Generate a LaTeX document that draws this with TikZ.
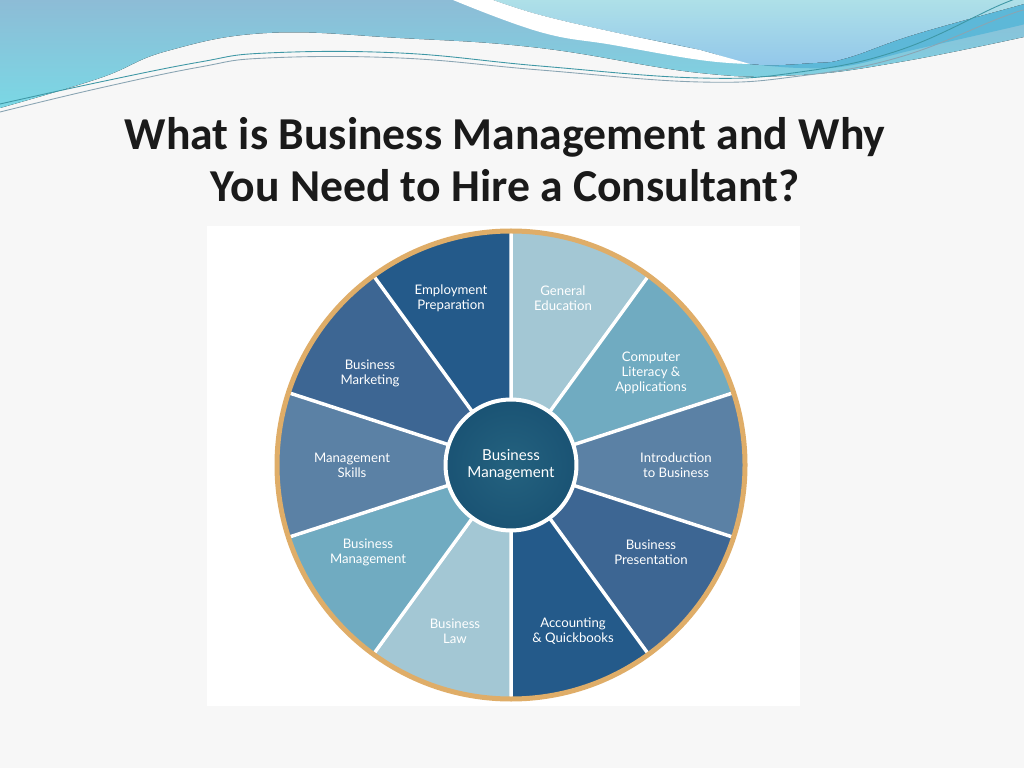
\documentclass[tikz,border=0pt]{standalone}
\usepackage{fontspec}
\setmainfont{Carlito}
\newfontfamily\wheelfont{Lato}
\usepackage{tikz}

\definecolor{slidebg}{HTML}{F7F7F7}
\definecolor{wavetop}{HTML}{8DBCD6}
\definecolor{wavebottom}{HTML}{7AD8E5}
\definecolor{stripeblue}{HTML}{5DB8D8}
\definecolor{skytop}{HTML}{AEE0E8}
\definecolor{skybottom}{HTML}{92C7EA}
\definecolor{lineteal}{HTML}{3E97A5}
\definecolor{linegray}{HTML}{8AA5B3}
\definecolor{titlegray}{HTML}{1A1A1A}
\definecolor{segA}{HTML}{245A8A}
\definecolor{segB}{HTML}{3D6693}
\definecolor{segC}{HTML}{5B81A5}
\definecolor{segD}{HTML}{70ABC1}
\definecolor{segE}{HTML}{A3C7D4}
\definecolor{hubinner}{HTML}{24627F}
\definecolor{hubouter}{HTML}{1A5374}
\definecolor{ringtan}{HTML}{DFAD68}

\tikzset{
    sector/.style={draw=white, line width=0.07cm, line join=round},
    seglabel/.style={text=white, align=center, inner sep=0pt, font=\wheelfont\fontsize{7.5}{8.6}\selectfont},
    waveline/.style={line width=0.5pt}
}

\begin{document}
\begin{tikzpicture}[x=0.02cm, y=0.02cm]
    \useasboundingbox (0,0) rectangle (1024,768);
    \clip (0,0) rectangle (1024,768);

    % Slide background and picture frame
    \fill[slidebg] (0,0) rectangle (1024,768);
    \fill[white] (207,62) rectangle (800,542);

    % Header waves
    \fill[top color=wavetop, bottom color=wavebottom] plot[smooth, tension=0.7] coordinates {(0,660) (100,690) (167,717) (267,735) (400,730) (540,720) (700,695) (800,693) (900,706) (1024,731)} -- (1024,768) -- (0,768) -- cycle;
    \fill[stripeblue] plot[smooth, tension=0.7] coordinates {(750,704) (800,700) (847,702) (913,718) (1013,741) (1024,744)} -- (1024,768) -- (850,768) -- cycle;
    \fill[top color=skytop, bottom color=skybottom] plot[smooth, tension=0.7] coordinates {(493,768) (540,753) (613,736) (700,718) (750,704) (813,705) (847,710) (913,733) (1013,761) (1024,764)} -- (1024,768) -- cycle;
    \fill[white] plot[smooth, tension=0.7] coordinates {(453,768) (540,736) (613,723) (700,708) (750,704)} -- plot[smooth, tension=0.7] coordinates {(700,718) (613,736) (540,753) (493,768)} -- cycle;

    \draw[waveline, lineteal] plot[smooth, tension=0.7] coordinates {(0,664) (100,686) (200,706) (267,715) (400,715) (540,702) (700,690) (800,696) (900,718) (1000,763) (1024,771)};
    \draw[waveline, linegray] plot[smooth, tension=0.7] coordinates {(0,656) (100,680) (200,701) (267,710) (400,710) (540,698) (700,686) (800,692) (900,711) (1000,750) (1024,758)};

    % Title
    \node[font=\bfseries\fontsize{26}{29.5}\selectfont, align=center, text=titlegray] (title) at (505,608) {What is Business Management and Why\\You Need to Hire a Consultant?};

    % Wheel
    \begin{scope}[shift={(511,303)}]
        \fill[sector, segE] (0,0) -- (90:232) arc[start angle=90, end angle=54, radius=232] -- cycle;
        \fill[sector, segD] (0,0) -- (54:232) arc[start angle=54, end angle=18, radius=232] -- cycle;
        \fill[sector, segC] (0,0) -- (18:232) arc[start angle=18, end angle=-18, radius=232] -- cycle;
        \fill[sector, segB] (0,0) -- (-18:232) arc[start angle=-18, end angle=-54, radius=232] -- cycle;
        \fill[sector, segA] (0,0) -- (-54:232) arc[start angle=-54, end angle=-90, radius=232] -- cycle;
        \fill[sector, segE] (0,0) -- (-90:232) arc[start angle=-90, end angle=-126, radius=232] -- cycle;
        \fill[sector, segD] (0,0) -- (-126:232) arc[start angle=-126, end angle=-162, radius=232] -- cycle;
        \fill[sector, segC] (0,0) -- (-162:232) arc[start angle=-162, end angle=-198, radius=232] -- cycle;
        \fill[sector, segB] (0,0) -- (162:232) arc[start angle=162, end angle=126, radius=232] -- cycle;
        \fill[sector, segA] (0,0) -- (126:232) arc[start angle=126, end angle=90, radius=232] -- cycle;
        \draw[sector] (0,0) -- (90:232) (0,0) -- (54:232) (0,0) -- (18:232) (0,0) -- (-18:232) (0,0) -- (-54:232)
            (0,0) -- (-90:232) (0,0) -- (-126:232) (0,0) -- (-162:232) (0,0) -- (162:232) (0,0) -- (126:232);

        % Outer ring
        \draw[ringtan, line width=0.1cm] (0,0) circle (234);

        % Hub
        \node[circle, inner color=hubinner, outer color=hubouter, draw=white, line width=0.08cm, minimum size=2.62cm,
            align=center, text=white, font=\wheelfont\fontsize{8.6}{9.7}\selectfont] (hub) at (0,0) {Business\\Management};

        % Segment labels
        \node[seglabel] (genedu) at (52,167) {General\\Education};
        \node[seglabel] (complit) at (140,92) {Computer\\Literacy \&\\Applications};
        \node[seglabel] (intro) at (165,0) {Introduction\\to Business};
        \node[seglabel] (present) at (140,-87) {Business\\Presentation};
        \node[seglabel] (account) at (62,-166) {Accounting\\\& Quickbooks};
        \node[seglabel] (law) at (-56,-166) {Business\\Law};
        \node[seglabel] (bizmgmt) at (-143,-87) {Business\\Management};
        \node[seglabel] (mgmtskills) at (-159,0) {Management\\Skills};
        \node[seglabel] (marketing) at (-141,92) {Business\\Marketing};
        \node[seglabel] (employ) at (-60,167) {Employment\\Preparation};
    \end{scope}
\end{tikzpicture}
\end{document}
